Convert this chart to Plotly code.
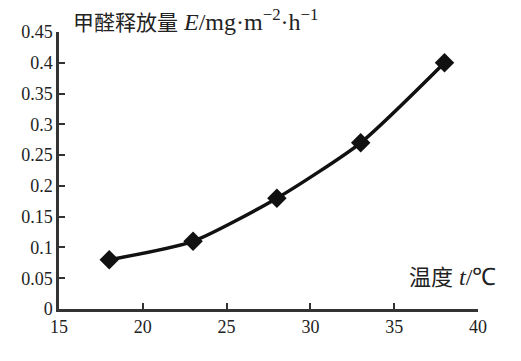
import plotly.graph_objects as go

temperature = [18, 23, 28, 33, 38]
emission = [0.08, 0.11, 0.18, 0.27, 0.40]
x_ticks = [15, 20, 25, 30, 35, 40]
y_ticks = [0, 0.05, 0.1, 0.15, 0.2, 0.25, 0.3, 0.35, 0.4, 0.45]
y_tick_text = ["0", "0.05", "0.1", "0.15", "0.2", "0.25", "0.3", "0.35", "0.4", "0.45"]

SERIF = "Liberation Serif"
CJK_SPAN = "font-family:Noto Sans CJK SC;font-size:21px"

fig = go.Figure()
fig.add_trace(go.Scatter(
    x=temperature, y=emission, mode="lines+markers",
    line=dict(color="#111111", width=3.5, shape="spline", smoothing=0.6),
    marker=dict(symbol="diamond", size=15, color="#111111"),
    showlegend=False, cliponaxis=False,
))

tick_font = dict(family=SERIF, size=18, color="#222222")
fig.update_layout(
    font=dict(family=SERIF, size=18, color="#222222"),
    xaxis=dict(
        range=[15, 40], tickmode="array", tickvals=x_ticks,
        ticktext=[str(v) for v in x_ticks],
        ticks="inside", ticklen=6, tickwidth=2, tickcolor="#333333",
        showline=True, linewidth=2.5, linecolor="#333333", showgrid=False, zeroline=False,
        tickfont=tick_font,
    ),
    yaxis=dict(
        range=[0, 0.45], tickmode="array", tickvals=y_ticks,
        ticktext=y_tick_text,
        ticks="inside", ticklen=6, tickwidth=2, tickcolor="#333333",
        showline=True, linewidth=2.5, linecolor="#333333", showgrid=False, zeroline=False,
        tickfont=tick_font,
    ),
)

fig.add_annotation(
    x=0, xref="paper", y=1, yref="paper", xanchor="left", yanchor="middle",
    xshift=12, yshift=12, showarrow=False,
    text=("<span style=\"%s\">甲醛释放量</span> <i>E</i>/mg·m<sup>−2</sup>·h<sup>−1</sup>" % CJK_SPAN),
    font=dict(family=SERIF, size=24, color="#222222"),
)
fig.add_annotation(
    x=1, xref="paper", y=0, yref="paper", xanchor="right", yanchor="bottom",
    xshift=20, yshift=16, showarrow=False,
    text="<span style=\"font-family:Noto Sans CJK SC;font-size:22px\">温度</span> <i>t</i>/℃",
    font=dict(family=SERIF, size=24, color="#222222"),
)

fig.update_layout(
    width=521, height=361,
    margin=dict(l=59, r=43, t=32, b=52),
    plot_bgcolor="white", paper_bgcolor="white",
)
fig.write_html("out.html")
